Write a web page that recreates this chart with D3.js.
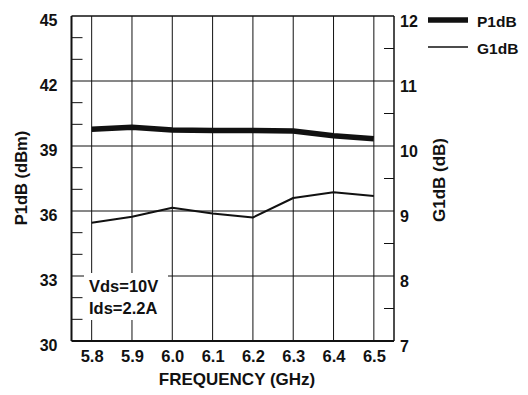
<!DOCTYPE html>
<html>
<head>
<meta charset="utf-8">
<script src="https://cdn.jsdelivr.net/npm/d3@7"></script>
<style>
  html, body { margin: 0; padding: 0; background: #fff; }
  svg text { font-family: "Liberation Sans", Arial, sans-serif; font-weight: bold; fill: #111; }
</style>
</head>
<body>
<svg id="chart" width="528" height="395"></svg>
<script>
// ---- data ----
const frequency = [5.8, 5.9, 6.0, 6.1, 6.2, 6.3, 6.4, 6.5];
const p1dB = [39.77, 39.86, 39.74, 39.72, 39.72, 39.69, 39.47, 39.34];
const g1dB = [8.82, 8.91, 9.05, 8.96, 8.90, 9.20, 9.29, 9.23];
const xTicks = [5.8, 5.9, 6.0, 6.1, 6.2, 6.3, 6.4, 6.5];
const leftTicks = [30, 33, 36, 39, 42, 45];
const rightTicks = [7, 8, 9, 10, 11, 12];
const leftMinor = [31, 32, 34, 35, 37, 38, 40, 41, 43, 44];
const rightMinor = [7.5, 8.5, 9.5, 10.5, 11.5];
const seriesNames = ["P1dB", "G1dB"];
const noteLines = ["Vds=10V", "Ids=2.2A"];

// ---- layout ----
const L = 71.5, R = 394, T = 16, B = 341;
const svg = d3.select("#chart");
const x = d3.scaleLinear().domain([5.75, 6.55]).range([L, R]);
const yL = d3.scaleLinear().domain([30, 45]).range([B, T]);
const yR = d3.scaleLinear().domain([7, 12]).range([B, T]);
const ink = "#111";
const ff = "'Liberation Sans', Arial, sans-serif";

// vertical gridlines
svg.append("g").selectAll("line").data(xTicks).join("line")
  .attr("x1", d => x(d)).attr("x2", d => x(d))
  .attr("y1", T).attr("y2", B)
  .attr("stroke", ink).attr("stroke-width", 1);

// horizontal gridlines
svg.append("g").selectAll("line").data(leftTicks.filter(d => d > 30 && d < 45)).join("line")
  .attr("x1", L).attr("x2", R)
  .attr("y1", d => yL(d)).attr("y2", d => yL(d))
  .attr("stroke", ink).attr("stroke-width", 1);

// minor ticks (left, inward)
svg.append("g").selectAll("line").data(leftMinor).join("line")
  .attr("x1", L).attr("x2", L + 11)
  .attr("y1", d => yL(d)).attr("y2", d => yL(d))
  .attr("stroke", ink).attr("stroke-width", 1);
// minor ticks (right, inward)
svg.append("g").selectAll("line").data(rightMinor).join("line")
  .attr("x1", R - 10).attr("x2", R)
  .attr("y1", d => yR(d)).attr("y2", d => yR(d))
  .attr("stroke", ink).attr("stroke-width", 1);

// annotation white box
svg.append("rect").attr("x", 84).attr("y", 273).attr("width", 84).attr("height", 47).attr("fill", "#fff");
svg.append("g").selectAll("text").data(noteLines).join("text")
  .attr("x", 89).attr("y", (d, i) => 292 + i * 22)
  .attr("font-size", 16.5).text(d => d);

// frame
svg.append("line").attr("x1", L).attr("x2", R).attr("y1", T).attr("y2", T).attr("stroke", ink).attr("stroke-width", 1.5);
svg.append("line").attr("x1", L).attr("x2", R).attr("y1", B).attr("y2", B).attr("stroke", ink).attr("stroke-width", 2);
svg.append("line").attr("x1", L).attr("x2", L).attr("y1", T).attr("y2", B).attr("stroke", ink).attr("stroke-width", 2);
svg.append("line").attr("x1", R).attr("x2", R).attr("y1", T).attr("y2", B).attr("stroke", ink).attr("stroke-width", 1.5);

// series
const lineP = d3.line().x((d, i) => x(frequency[i])).y(d => yL(d));
const lineG = d3.line().x((d, i) => x(frequency[i])).y(d => yR(d));
svg.append("path").datum(p1dB).attr("d", lineP)
  .attr("fill", "none").attr("stroke", ink).attr("stroke-width", 5.5).attr("stroke-linejoin", "round");
svg.append("path").datum(g1dB).attr("d", lineG)
  .attr("fill", "none").attr("stroke", ink).attr("stroke-width", 2).attr("stroke-linejoin", "round");

// axes (labels via d3 axes)
const axL = svg.append("g").attr("transform", `translate(${L},0)`)
  .call(d3.axisLeft(yL).tickValues(leftTicks).tickSize(0).tickPadding(14).tickFormat(d3.format("d")));
axL.select(".domain").remove();
axL.selectAll("text").attr("font-size", 16).attr("dy", "0.6em").attr("fill", ink)
  .style("font-family", ff).style("font-weight", "bold");

const axR = svg.append("g").attr("transform", `translate(${R},0)`)
  .call(d3.axisRight(yR).tickValues(rightTicks).tickSize(0).tickPadding(6).tickFormat(d3.format("d")));
axR.select(".domain").remove();
axR.selectAll("text").attr("font-size", 16).attr("dy", "0.65em").attr("fill", ink)
  .style("font-family", ff).style("font-weight", "bold");

const axB = svg.append("g").attr("transform", `translate(0,${B})`)
  .call(d3.axisBottom(x).tickValues(xTicks).tickSize(0).tickPadding(9).tickFormat(d3.format(".1f")));
axB.select(".domain").remove();
axB.selectAll("text").attr("font-size", 16.5).attr("fill", ink)
  .style("font-family", ff).style("font-weight", "bold");

// axis titles
svg.append("text").attr("x", 237).attr("y", 385).attr("text-anchor", "middle")
  .attr("font-size", 17).text("FREQUENCY (GHz)");
svg.append("text").attr("transform", "translate(27,178) rotate(-90)").attr("text-anchor", "middle")
  .attr("font-size", 16.5).text("P1dB (dBm)");
svg.append("text").attr("transform", "translate(445,180) rotate(-90)").attr("text-anchor", "middle")
  .attr("font-size", 17).text("G1dB (dB)");

// legend
const legY = [20, 47];
const legW = [5.5, 1.5];
const leg = svg.append("g").selectAll("g").data(seriesNames).join("g");
leg.append("line").attr("x1", 428).attr("x2", 468)
  .attr("y1", (d, i) => legY[i]).attr("y2", (d, i) => legY[i])
  .attr("stroke", ink).attr("stroke-width", (d, i) => legW[i]);
leg.append("text").attr("x", 477).attr("y", (d, i) => legY[i] + 7)
  .attr("font-size", 15.5).text(d => d);
</script>
</body>
</html>
